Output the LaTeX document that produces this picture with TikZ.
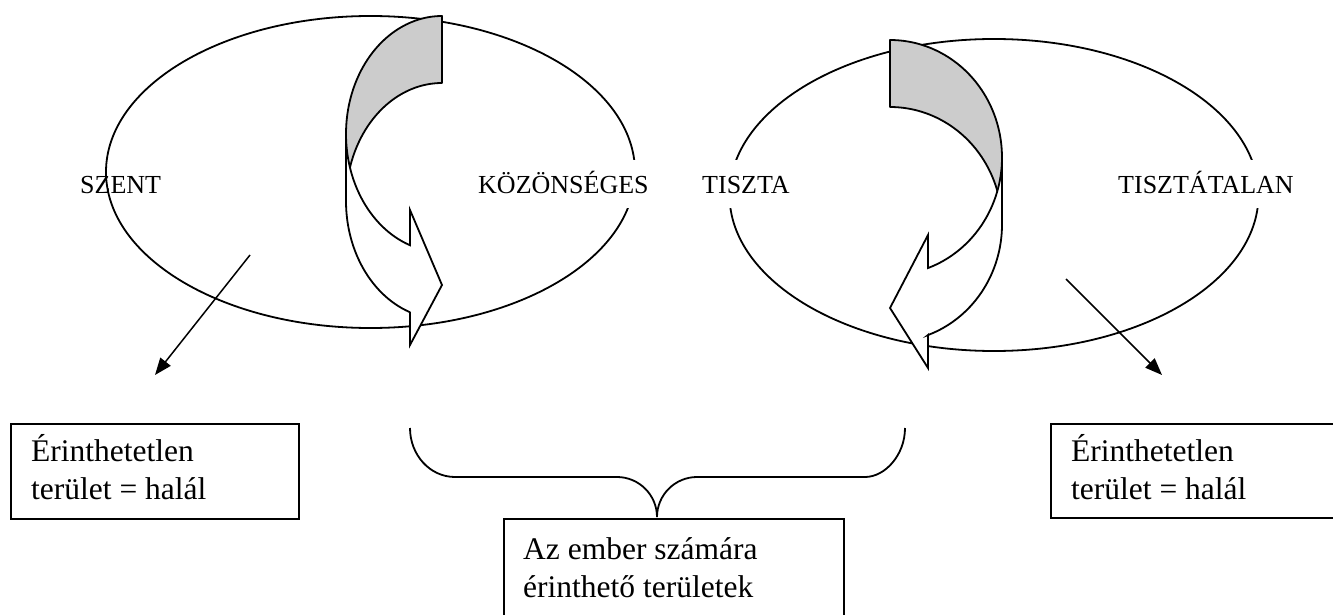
\documentclass[tikz,border=0pt]{standalone}
\usepackage{fontspec}
\setmainfont{Liberation Serif}
\usetikzlibrary{arrows.meta,shapes.geometric}
\definecolor{backgray}{RGB}{204,204,204}
\tikzset{
  oval/.style={ellipse, draw, line width=1.8pt, minimum width=529pt, minimum height=312pt, inner sep=0pt},
  lbl/.style={font=\fontsize{26}{30}\selectfont, inner xsep=0pt, anchor=base west},
  lblw/.style={lbl, fill=white, text height=18pt, text depth=0pt, inner ysep=15pt},
  boxframe/.style={draw, line width=1.9pt, anchor=north west, inner sep=0pt},
  boxtext/.style={font=\fontsize{31.5}{37.5}\selectfont, align=left, inner sep=0pt, anchor=base west},
  back/.style={fill=backgray, draw, line width=1.8pt, line join=round},
  front/.style={fill=white, draw, line width=1.8pt, line join=miter},
  pointer/.style={draw, line width=1.5pt, -{Triangle[length=17pt,width=13pt]}},
  bracestyle/.style={draw, line width=1.8pt}
}
\begin{document}
\begin{tikzpicture}[x=1pt, y=-1pt]
\useasboundingbox (0,0) rectangle (1333,615);
\clip (0,0) rectangle (1333,615);

% ellipses
\node[oval] (lell) at (370.5,172) {};
\node[oval] (rell) at (994,195) {};

% labels
\node[lbl] (szent) at (80,193) {SZENT};
\node[lblw] (kozon) at (478,193) {KÖZÖNSÉGES};
\node[lblw] (tiszta) at (702,193) {TISZTA};
\node[lblw] (tisztat) at (1118,193) {TISZTÁTALAN};

% left curved arrow
\path[back] plot[domain=270:180, samples=50, variable=\t] ({442+96*cos(\t)},{134+118*sin(\t)})
  -- (346,201)
  -- plot[domain=180:270, samples=50, variable=\t] ({442+96*cos(\t)},{201+118*sin(\t)})
  -- cycle;
\path[front] plot[domain=180:109.47, samples=50, variable=\t] ({442+96*cos(\t)},{134+118*sin(\t)})
  -- (410,210) -- (442,285) -- (410,345) -- (410,312)
  -- plot[domain=109.47:180, samples=50, variable=\t] ({442+96*cos(\t)},{201+118*sin(\t)})
  -- cycle;

% right curved arrow
\path[back] plot[domain=270:360, samples=50, variable=\t] ({890+112*cos(\t)},{157.5+117.5*sin(\t)})
  -- (1002,224.5)
  -- plot[domain=360:270, samples=50, variable=\t] ({890+112*cos(\t)},{224.5+117.5*sin(\t)})
  -- cycle;
\path[front] plot[domain=0:70.2, samples=50, variable=\t] ({890+112*cos(\t)},{157.5+117.5*sin(\t)})
  -- (928,235) -- (890,308) -- (928,368) -- (928,335)
  -- plot[domain=70.2:0, samples=50, variable=\t] ({890+112*cos(\t)},{224.5+117.5*sin(\t)})
  -- cycle;

% straight pointers
\coordinate (lstart) at (250,255);
\coordinate (lend) at (155,375);
\coordinate (rstart) at (1066,279);
\coordinate (rend) at (1162,375);
\draw[pointer] (lstart) -- (lend);
\draw[pointer] (rstart) -- (rend);

% boxes
\node[boxframe, minimum width=288pt, minimum height=95pt] (lbox) at (10,423) {};
\node[boxtext] (ltext) at (31,499) {Érinthetetlen\\terület = halál};
\node[boxframe, minimum width=320pt, minimum height=94pt] (rbox) at (1050,423) {};
\node[boxtext] (rtext) at (1071,499) {Érinthetetlen\\terület = halál};
\node[boxframe, minimum width=340pt, minimum height=140pt] (mbox) at (503,518) {};
\node[boxtext] (mtext) at (523,597) {Az ember számára\\érinthető területek};

% brace
\coordinate (bL) at (410,428);
\coordinate (bR) at (905,428);
\coordinate (bM) at (657,517);
\draw[bracestyle] (bL) .. controls (410,455) and (430,477) .. (455,477) -- (617,477)
  .. controls (639,477) and (657,495) .. (bM);
\draw[bracestyle] (bM) .. controls (657,495) and (675,477) .. (697,477) -- (865,477)
  .. controls (885,477) and (905,455) .. (bR);
\end{tikzpicture}
\end{document}
